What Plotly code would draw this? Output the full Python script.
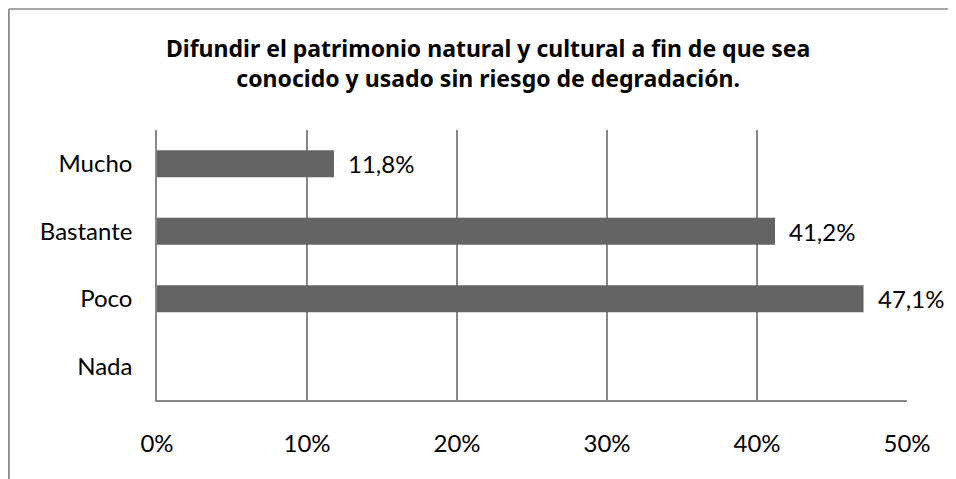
import plotly.graph_objects as go

categories = ["Nada", "Poco", "Bastante", "Mucho"]
values = [0.0, 47.1, 41.2, 11.8]
x_ticks = [0, 10, 20, 30, 40, 50]
title_lines = ["Difundir el patrimonio natural y cultural a fin de que sea",
               "conocido y usado sin riesgo de degradación."]

FONT = "Lato"
TITLE_FONT = "Noto Sans"
GRAY = "#878787"
BAR = "#646464"

fig = go.Figure()
fig.add_trace(go.Bar(
    y=categories, x=values, orientation="h",
    marker=dict(color=BAR, line=dict(width=0)),
    width=0.4, hoverinfo="skip",
))

annotations = []
for c, v in zip(categories, values):
    if v > 0:
        annotations.append(dict(
            x=v, y=c, xref="x", yref="y", text=f"{v:.1f}%".replace(".", ","),
            showarrow=False, xanchor="left", yanchor="middle", xshift=12,
            font=dict(family=FONT, size=24, color="#000000"),
        ))

# page body has an 8px margin, so figure coordinates are page coordinates - 8
W, H = 948, 471
L, R, T, B = 149, 49, 122, 79
pw, ph = W - L - R, H - T - B

def px(x):
    return (x - L) / pw

def py(y):
    return (H - B - y) / ph

annotations.append(dict(
    x=px(480), y=py(55), xref="paper", yref="paper",
    text="<b>" + title_lines[0] + "<br>" + title_lines[1] + "</b>",
    showarrow=False, xanchor="center", yanchor="middle",
    font=dict(family=TITLE_FONT, size=23, color="#000000"),
))

shapes = [
    dict(type="line", xref="paper", yref="paper", x0=px(0.75), x1=px(0.75), y0=py(1), y1=py(520),
         line=dict(color=GRAY, width=2)),
    dict(type="line", xref="paper", yref="paper", x0=px(0.75), x1=px(1000), y0=py(1), y1=py(1),
         line=dict(color=GRAY, width=1.5)),
]

fig.update_layout(
    width=W, height=H,
    margin=dict(l=L, r=R, t=T, b=B, pad=0),
    paper_bgcolor="#ffffff", plot_bgcolor="#ffffff",
    showlegend=False,
    separators=",.",
    font=dict(family=FONT, size=24, color="#000000"),
    annotations=annotations,
    shapes=shapes,
    bargap=0.6,
)
fig.update_xaxes(
    range=[0, 50], tickvals=x_ticks, ticktext=[f"{t}%" for t in x_ticks],
    showgrid=True, gridcolor=GRAY, gridwidth=1.5,
    showline=True, linecolor=GRAY, linewidth=1.5,
    zeroline=False, ticks="", ticklabelstandoff=21,
    tickfont=dict(family=FONT, size=24, color="#000000"),
    fixedrange=True,
)
fig.update_yaxes(
    categoryorder="array", categoryarray=categories,
    showgrid=False, showline=True, linecolor=GRAY, linewidth=1.5,
    ticks="", ticklabelstandoff=18,
    tickfont=dict(family=FONT, size=24, color="#000000"),
    fixedrange=True,
)

fig.write_html("out.html")
